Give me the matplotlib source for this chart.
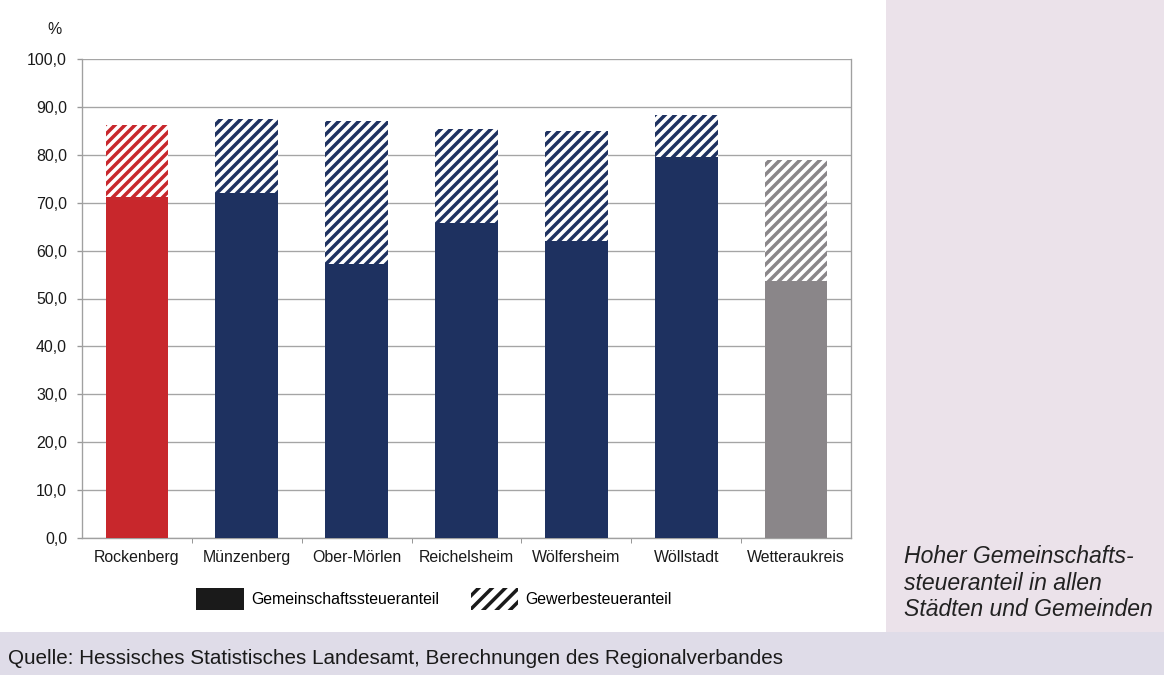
import matplotlib
matplotlib.use("Agg")
import matplotlib.pyplot as plt
from matplotlib.patches import Patch, Rectangle

plt.rcParams['font.family'] = ['Liberation Sans', 'DejaVu Sans']
plt.rcParams['hatch.linewidth'] = 2.1

categories = ["Rockenberg", "Münzenberg", "Ober-Mörlen", "Reichelsheim",
              "Wölfersheim", "Wöllstadt", "Wetteraukreis"]
gemeinschaft = [71.2, 72.1, 57.1, 65.8, 61.9, 79.5, 53.6]
total = [86.2, 87.5, 87.1, 85.4, 84.9, 88.3, 79.0]
gewerbe = [t - g for t, g in zip(total, gemeinschaft)]
yticks = [0, 10, 20, 30, 40, 50, 60, 70, 80, 90, 100]
ytick_labels = ["0,0", "10,0", "20,0", "30,0", "40,0", "50,0", "60,0",
                "70,0", "80,0", "90,0", "100,0"]
legend_labels = ["Gemeinschaftssteueranteil", "Gewerbesteueranteil"]

red = "#C8272C"
navy = "#1E3160"
grey = "#8A8689"
colors = [red, navy, navy, navy, navy, navy, grey]

W, H = 1164, 675
fig = plt.figure(figsize=(9.7, 5.625), dpi=120)
fig.patch.set_facecolor("#EBE2EA")
# white panel of the chart
fig.patches.append(Rectangle((0, 1 - 632 / H), 886 / W, 632 / H,
                             transform=fig.transFigure, facecolor="white",
                             edgecolor="none", zorder=-2))
# slightly bluish lower band
fig.patches.append(Rectangle((0, 0), 1, 1 - 632 / H,
                             transform=fig.transFigure, facecolor="#DFDCE8",
                             edgecolor="none", zorder=-2))

ax = fig.add_axes([82 / W, 1 - 538 / H, (851 - 82) / W, (538 - 59) / H])
ax.set_facecolor("white")
ax.set_zorder(1)

x = list(range(len(categories)))
width = 0.57
ax.bar(x, gemeinschaft, width=width, color=colors, linewidth=0, zorder=3)
for xi, g, v, c in zip(x, gemeinschaft, gewerbe, colors):
    ax.bar(xi, v, bottom=g, width=width, facecolor="white", edgecolor=c,
           hatch="////", linewidth=0, zorder=3)

ax.set_xlim(-0.5, len(categories) - 0.5)
ax.set_ylim(0, 100)
ax.set_yticks(yticks)
ax.set_yticklabels(ytick_labels)
ax.set_xticks(x)
ax.set_xticklabels(categories)
ax.set_xticks([i + 0.5 for i in x[:-1]], minor=True)
ax.tick_params(axis="x", which="major", length=0, pad=7, labelsize=9.5,
               colors="#1a1a1a")
ax.tick_params(axis="x", which="minor", length=3, direction="out",
               color="#999999")
ax.tick_params(axis="y", length=3, direction="out", color="#999999",
               pad=6, labelsize=9.5, labelcolor="#1a1a1a")
ax.yaxis.grid(True, color="#A5A5A5", linewidth=0.8, zorder=0)
ax.set_axisbelow(True)
for s in ax.spines.values():
    s.set_color("#A0A0A0")
    s.set_linewidth(0.8)
ax.spines["top"].set_visible(False)

fig.text(54 / W, 1 - 29 / H, "%", ha="center", va="center", fontsize=9.5,
         color="#1a1a1a")

handles = [Patch(facecolor="#1a1a1a", edgecolor="#1a1a1a", linewidth=0),
           Patch(facecolor="white", edgecolor="#1a1a1a", hatch="///",
                 linewidth=0)]
fig.legend(handles, legend_labels, loc="center",
           bbox_to_anchor=(434 / W, 1 - 599 / H), ncol=2, frameon=False,
           fontsize=9.5, handlelength=3.0, handleheight=1.75,
           handletextpad=0.45, columnspacing=2.0, borderaxespad=0)

fig.text(904 / W, 1 - 545 / H,
         "Hoher Gemeinschafts-\nsteueranteil in allen\nStädten und Gemeinden",
         ha="left", va="top", fontsize=13.8, style="italic",
         color="#222222", linespacing=1.2)

fig.text(8 / W, 1 - 659 / H,
         "Quelle: Hessisches Statistisches Landesamt, Berechnungen des Regionalverbandes",
         ha="left", va="center", fontsize=12.4, color="#1a1a1a")

fig.savefig("out.png", dpi=120)
